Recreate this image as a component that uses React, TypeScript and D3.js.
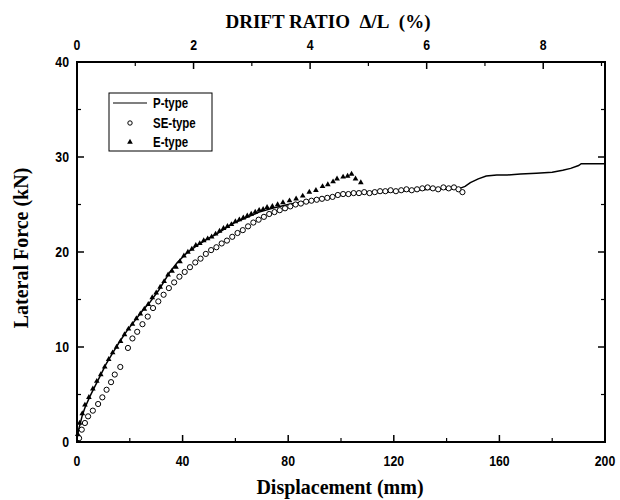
import React from "react";
import * as d3 from "d3";

const pType: [number, number][] = [
  [0, 0], [0.5, 1.2], [1.1, 1.8], [2, 2.8], [3, 3.6], [4.9, 4.8], [6.5, 5.7], [8.7, 6.9], [11, 8.2],
  [13.6, 9.4], [16, 10.5], [18.9, 11.7], [22, 12.8], [25, 13.9], [27.6, 14.7], [31, 16], [35.2, 17.9],
  [38, 18.9], [41.6, 19.9], [45, 20.6], [49, 21.3], [53, 21.9], [59, 23], [64, 23.6], [69, 24.2],
  [74, 24.6], [80, 25], [86, 25.3], [92, 25.6], [98, 25.9], [104, 26.1], [110, 26.2], [116, 26.3],
  [122, 26.4], [128, 26.5], [134, 26.6], [140, 26.6], [145, 26.7], [147, 26.9], [149, 27.3],
  [152, 27.7], [155, 28], [159, 28.1], [163, 28.1], [168, 28.2], [174, 28.3], [180, 28.4],
  [184, 28.6], [187, 28.8], [190, 29.1], [191, 29.3], [200, 29.3],
];

const seType: [number, number][] = [
  [0.8, 0.4], [1.8, 1.3], [3, 2], [4.2, 2.7], [6, 3.3], [8, 4], [9.6, 4.7], [11.2, 5.5], [12.9, 6.3],
  [14.3, 7.1], [16.4, 7.9], [19.3, 9.9], [21, 10.9], [22.8, 11.6], [24.8, 12.4], [26.8, 13.2],
  [28.8, 14.1], [30.8, 14.8], [32.8, 15.5], [34.8, 16.2], [36.8, 16.8], [38.8, 17.4], [40.8, 17.9],
  [42.8, 18.4], [44.8, 18.9], [46.8, 19.3], [48.8, 19.8], [50.8, 20.2], [52.8, 20.5], [54.8, 20.9],
  [56.8, 21.2], [58.8, 21.6], [60.8, 22], [62.8, 22.3], [64.8, 22.7], [66.8, 23.1], [68.8, 23.4],
  [70.8, 23.7], [72.8, 24], [74.8, 24.2], [76.8, 24.4], [78.8, 24.6], [80.8, 24.8], [82.8, 25],
  [84.8, 25.1], [86.8, 25.3], [88.8, 25.4], [90.8, 25.5], [92.8, 25.6], [94.8, 25.7], [96.8, 25.8],
  [98.8, 26], [100.8, 26.1], [102.8, 26.1], [104.8, 26.2], [106.8, 26.2], [108.8, 26.3], [110.8, 26.2],
  [112.8, 26.3], [114.8, 26.4], [116.8, 26.4], [118.8, 26.5], [120.8, 26.4], [122.8, 26.5],
  [124.8, 26.6], [126.8, 26.5], [128.8, 26.6], [130.8, 26.7], [132.8, 26.8], [134.8, 26.7],
  [136.8, 26.6], [138.8, 26.8], [140.8, 26.7], [142.8, 26.8], [144.5, 26.6], [146, 26.3],
];

const eType: [number, number][] = [
  [0.3, 0.8], [1, 2], [2, 3], [3, 3.9], [4.5, 4.7], [6, 5.6], [7.5, 6.4], [9, 7.1], [10.5, 7.9],
  [12, 8.7], [13.5, 9.4], [15, 10], [16.5, 10.6], [18, 11.3], [19.5, 11.9], [21, 12.4], [22.5, 13],
  [24, 13.5], [25.5, 14], [27, 14.5], [28.5, 15.2], [30, 15.7], [31.5, 16.3], [33, 16.9], [34.5, 17.6],
  [36, 18], [37.5, 18.4], [39, 19], [40.5, 19.6], [42, 20], [43.5, 20.3], [45, 20.7], [46.5, 20.9],
  [48, 21.2], [49.5, 21.4], [51, 21.6], [52.5, 21.9], [54, 22.2], [55.5, 22.5], [57, 22.7],
  [58.5, 22.9], [60, 23.2], [61.5, 23.4], [63, 23.6], [64.5, 23.8], [66, 24], [67.5, 24.2],
  [69, 24.4], [70.5, 24.5], [72, 24.7], [74, 24.8], [76, 25], [78, 25.2], [80.5, 25.4], [83, 25.6],
  [85.5, 25.9], [88, 26.3], [90.5, 26.5], [93, 26.9], [95, 27.1], [97, 27.4], [98.5, 27.7],
  [100.8, 27.9], [102.5, 28], [104, 28.2], [105.5, 27.7], [107.5, 27.3],
];

const xMajor = [0, 40, 80, 120, 160, 200];
const xMinor = [20, 60, 100, 140, 180];
const yMajor = [0, 10, 20, 30, 40];
const yMinor = [5, 15, 25, 35];
const driftMajor = [0, 2, 4, 6, 8];
const driftMinor = [1, 3, 5, 7, 9];
const legendItems = ["P-type", "SE-type", "E-type"];

const W = 620, H = 500;
const L = 77, R = 605, T = 62, B = 442;

const tickFont = "'Liberation Sans', Arial, sans-serif";
const titleFont = "'Liberation Serif', 'Times New Roman', serif";

function NarrowText(props: { x: number; y: number; anchor: string; size: number; children: any }) {
  return (
    <g transform={`translate(${props.x},${props.y}) scale(0.82,1)`}>
      <text x={0} y={0} textAnchor={props.anchor} fontFamily={tickFont} fontWeight="bold" fontSize={props.size}>
        {props.children}
      </text>
    </g>
  );
}

export default function App() {
  const x = d3.scaleLinear().domain([0, 200]).range([L, R]);
  const xd = d3.scaleLinear().domain([0, 9.06]).range([L, R]);
  const y = d3.scaleLinear().domain([0, 40]).range([B, T]);
  const line = d3.line<[number, number]>().x((d) => x(d[0])).y((d) => y(d[1]));
  const tri = d3.symbol().type(d3.symbolTriangle).size(14)();

  return (
    <svg width={W} height={H} style={{ position: "absolute", left: 0, top: 0, background: "#fff" }}>
      <rect x={0} y={0} width={W} height={H} fill="#fff" />
      <path d={line(pType) || ""} fill="none" stroke="#000" strokeWidth={1.5} />
      {seType.map((d, i) => (
        <circle key={"s" + i} cx={x(d[0])} cy={y(d[1])} r={2.6} fill="#fff" stroke="#000" strokeWidth={1} />
      ))}
      {eType.map((d, i) => (
        <path key={"e" + i} d={tri || ""} transform={`translate(${x(d[0])},${y(d[1])})`} fill="#000" />
      ))}
      <rect x={L} y={T} width={R - L} height={B - T} fill="none" stroke="#000" strokeWidth={2} />
      {xMajor.map((v) => (
        <g key={"xb" + v}>
          <line x1={x(v)} x2={x(v)} y1={B} y2={B - 7} stroke="#000" strokeWidth={1.5} />
          <NarrowText x={x(v)} y={466} anchor="middle" size={15}>{v}</NarrowText>
        </g>
      ))}
      {xMinor.map((v) => (
        <line key={"xm" + v} x1={x(v)} x2={x(v)} y1={B} y2={B - 4} stroke="#000" strokeWidth={1.2} />
      ))}
      {driftMajor.map((v) => (
        <g key={"dt" + v}>
          <line x1={xd(v)} x2={xd(v)} y1={T} y2={T + 7} stroke="#000" strokeWidth={1.5} />
          <NarrowText x={xd(v)} y={50} anchor="middle" size={15}>{v}</NarrowText>
        </g>
      ))}
      {driftMinor.map((v) => (
        <line key={"dm" + v} x1={xd(v)} x2={xd(v)} y1={T} y2={T + 4} stroke="#000" strokeWidth={1.2} />
      ))}
      {yMajor.map((v) => (
        <g key={"y" + v}>
          <line x1={L} x2={L + 7} y1={y(v)} y2={y(v)} stroke="#000" strokeWidth={1.5} />
          <line x1={R} x2={R - 7} y1={y(v)} y2={y(v)} stroke="#000" strokeWidth={1.5} />
          <NarrowText x={69} y={y(v) + 5} anchor="end" size={15}>{v}</NarrowText>
        </g>
      ))}
      {yMinor.map((v) => (
        <g key={"ym" + v}>
          <line x1={L} x2={L + 4} y1={y(v)} y2={y(v)} stroke="#000" strokeWidth={1.2} />
          <line x1={R} x2={R - 4} y1={y(v)} y2={y(v)} stroke="#000" strokeWidth={1.2} />
        </g>
      ))}
      <text x={328} y={28} textAnchor="middle" fontFamily={titleFont} fontWeight="bold" fontSize={19}>
        DRIFT RATIO{"\u00A0\u00A0"}Δ/L{"\u00A0\u00A0"}(%)
      </text>
      <text x={340} y={494} textAnchor="middle" fontFamily={titleFont} fontWeight="bold" fontSize={20}>
        Displacement (mm)
      </text>
      <text transform="translate(28,248) rotate(-90)" textAnchor="middle" fontFamily={titleFont} fontWeight="bold" fontSize={20}>
        Lateral Force (kN)
      </text>
      <rect x={109} y={93} width={103} height={58} fill="#fff" stroke="#000" strokeWidth={1} />
      <line x1={113} x2={147} y1={103} y2={103} stroke="#000" strokeWidth={1.2} />
      <circle cx={130} cy={123} r={2.2} fill="#fff" stroke="#000" strokeWidth={1} />
      <path d={tri || ""} transform="translate(130,142)" fill="#000" />
      {legendItems.map((t, i) => (
        <NarrowText key={t} x={153} y={108 + i * 19.5} anchor="start" size={14}>{t}</NarrowText>
      ))}
    </svg>
  );
}
